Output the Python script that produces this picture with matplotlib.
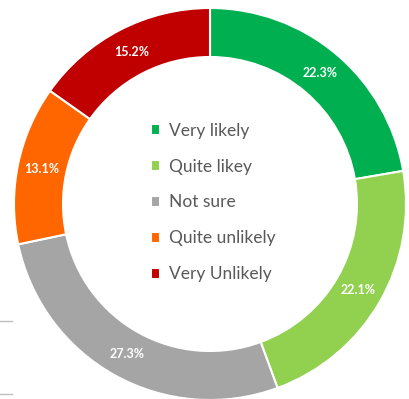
import matplotlib.pyplot as plt
from matplotlib.lines import Line2D

labels = ['Very likely', 'Quite likey', 'Not sure', 'Quite unlikely', 'Very Unlikely']
values = [22.3, 22.1, 27.3, 13.1, 15.2]
colors = ['#00B050', '#92D050', '#A5A5A5', '#FF6600', '#C00000']

plt.rcParams['font.family'] = ['Lato', 'DejaVu Sans']

fig = plt.figure(figsize=(4.10, 3.99), dpi=100)
ax = fig.add_axes([0, 0, 1, 1])

r_out = 196
r_in = 147
wedges, texts, autotexts = ax.pie(
    values, colors=colors, startangle=90, counterclock=False,
    center=(210, 195), radius=r_out,
    autopct='%1.1f%%', pctdistance=(r_out + r_in) / 2 / r_out,
    wedgeprops=dict(width=r_out - r_in, edgecolor='white', linewidth=1.5),
    textprops=dict(color='white', fontsize=9, fontweight='bold'))

ax.set_xlim(0, 410)
ax.set_ylim(0, 399)
ax.set_aspect('equal')
ax.axis('off')

ax.legend(wedges, labels, loc='center', bbox_to_anchor=(0.52, 0.4925),
          bbox_transform=fig.transFigure, frameon=False, fontsize=12.5,
          labelcolor='#595959', handlelength=0.55, handleheight=0.55,
          handletextpad=0.5, labelspacing=1.15)

# small gray ticks at the left edge
for y in [321, 394]:
    fig.add_artist(Line2D([0, 12 / 410], [1 - y / 399] * 2, color='#BFBFBF', lw=1))

fig.savefig('out.png', dpi=100)
